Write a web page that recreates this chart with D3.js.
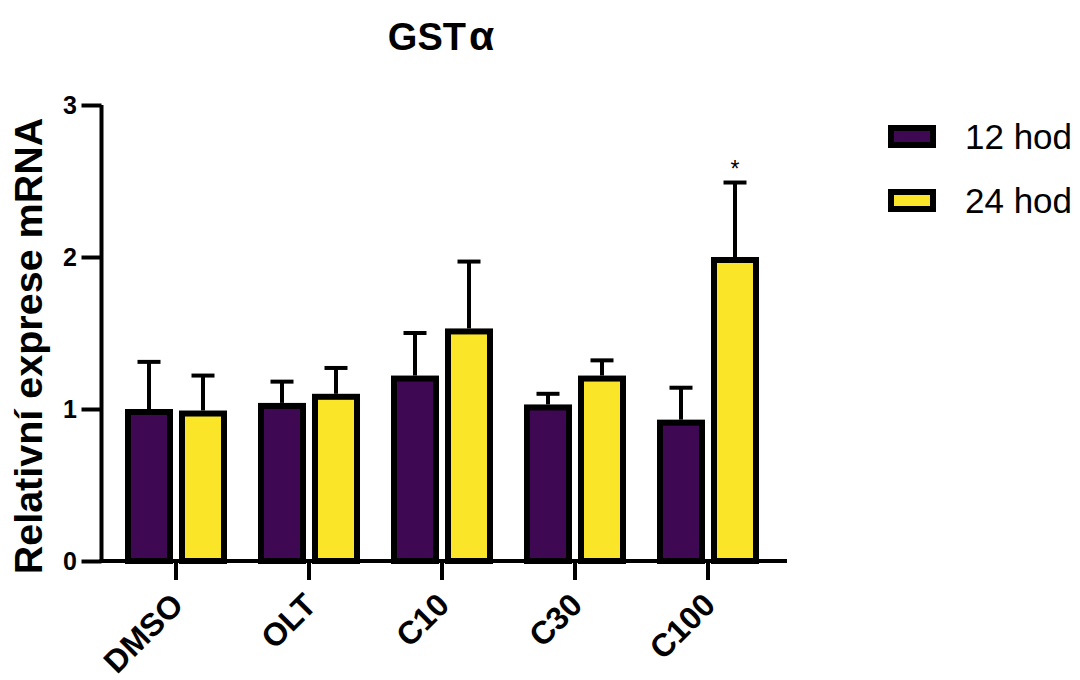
<!DOCTYPE html>
<html>
<head>
<meta charset="utf-8">
<script src="https://cdn.jsdelivr.net/npm/d3@7"></script>
<style>
  html, body { margin: 0; padding: 0; background: #fff; }
  svg { display: block; font-family: "Liberation Sans", Arial, sans-serif; }
</style>
</head>
<body>
<svg id="chart" width="1080" height="680"></svg>
<script>
const categories = ["DMSO", "OLT", "C10", "C30", "C100"];
const seriesNames = ["12 hod", "24 hod"];
const mean12 = [1.00, 1.04, 1.22, 1.03, 0.93];
const err12  = [0.31, 0.14, 0.28, 0.07, 0.21];
const mean24 = [0.99, 1.10, 1.53, 1.22, 2.00];
const err24  = [0.23, 0.17, 0.44, 0.10, 0.49];
const significance24 = ["", "", "", "", "*"];
const yTicks = [0, 1, 2, 3];
const colors = ["#3f0852", "#fbe529"];

const svg = d3.select("#chart");

const y = d3.scaleLinear().domain([0, 3]).range([561, 105]);
const x = d3.scaleBand().domain(categories).range([109.5, 774.5]).padding(0);
const sub = d3.scaleOrdinal().domain(seriesNames).range([-27, 27]);

const barW = 42, sw = 6;

const data = [];
categories.forEach((c, i) => {
  data.push({cat: c, s: 0, v: mean12[i], e: err12[i], sig: ""});
  data.push({cat: c, s: 1, v: mean24[i], e: err24[i], sig: significance24[i]});
});

const cx = d => x(d.cat) + x.bandwidth() / 2 + sub(seriesNames[d.s]);

// error bars (upper only)
const eg = svg.append("g");
eg.selectAll("line.stem").data(data).join("line")
  .attr("x1", cx).attr("x2", cx)
  .attr("y1", d => y(d.v)).attr("y2", d => y(d.v + d.e))
  .attr("stroke", "#000").attr("stroke-width", 4);
eg.selectAll("line.cap").data(data).join("line")
  .attr("x1", d => cx(d) - 11.5).attr("x2", d => cx(d) + 11.5)
  .attr("y1", d => y(d.v + d.e)).attr("y2", d => y(d.v + d.e))
  .attr("stroke", "#000").attr("stroke-width", 4);

// bars
svg.append("g").selectAll("rect").data(data).join("rect")
  .attr("x", d => cx(d) - barW / 2)
  .attr("y", d => y(d.v) + sw / 2)
  .attr("width", barW)
  .attr("height", d => y(0) - y(d.v) - sw / 2)
  .attr("fill", d => colors[d.s])
  .attr("stroke", "#000").attr("stroke-width", sw);

// significance
svg.append("g").selectAll("text").data(data.filter(d => d.sig)).join("text")
  .attr("x", cx).attr("y", d => y(d.v + d.e) - 6)
  .attr("text-anchor", "middle").style("font-size", "23px")
  .text(d => d.sig);

// y axis (lines via d3 axis, labels as explicit text)
const yAxis = d3.axisLeft(y).tickValues(yTicks).tickFormat("").tickSize(20);
const yg = svg.append("g").attr("transform", "translate(101.5,0)").call(yAxis);
yg.select(".domain").attr("stroke-width", 4).attr("d", `M0,${y(3)}V${y(0) + 2}`);
yg.selectAll(".tick line").attr("stroke-width", 4);
svg.append("g").selectAll("text").data(yTicks).join("text")
  .attr("x", 77).attr("y", d => y(d) + 9)
  .attr("text-anchor", "end")
  .style("font-size", "25px").style("font-weight", "bold")
  .text(d => d3.format("d")(d));

// x axis
const xAxis = d3.axisBottom(x).tickSize(19).tickFormat("");
const xg = svg.append("g").attr("transform", `translate(0,${y(0)})`).call(xAxis);
xg.select(".domain").remove();
xg.append("line").attr("x1", 99.5).attr("x2", 787).attr("y1", 0).attr("y2", 0)
  .attr("stroke", "#000").attr("stroke-width", 4);
xg.selectAll(".tick line").attr("stroke-width", 4);

svg.append("g").selectAll("text").data(categories).join("text")
  .attr("transform", d => `translate(${x(d) + x.bandwidth() / 2 + 9},${y(0) + 46}) rotate(-45)`)
  .attr("text-anchor", "end")
  .style("font-size", "32px").style("font-weight", "bold")
  .text(d => d);

// y label
svg.append("text")
  .attr("transform", "translate(42,346) rotate(-90)")
  .attr("text-anchor", "middle")
  .style("font-size", "39.5px").style("font-weight", "bold")
  .text("Relativní exprese mRNA");

// title
const title = svg.append("text").attr("x", 441).attr("y", 50)
  .attr("text-anchor", "middle").style("font-size", "38px").style("font-weight", "bold");
title.append("tspan").text("GST");
title.append("tspan").attr("dx", 3).style("font-size", "41px").text("α");

// legend
const lg = svg.append("g");
seriesNames.forEach((n, i) => {
  const ly = 136.5 + i * 64;
  lg.append("rect").attr("x", 891).attr("y", ly - 8.5).attr("width", 42).attr("height", 17)
    .attr("fill", colors[i]).attr("stroke", "#000").attr("stroke-width", sw);
  lg.append("text").attr("x", 965).attr("y", ly + 12.5).style("font-size", "35px").text(n);
});
</script>
</body>
</html>
